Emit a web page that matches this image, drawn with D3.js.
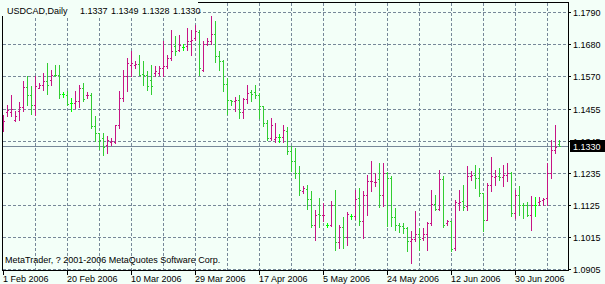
<!DOCTYPE html>
<html>
<head>
<meta charset="utf-8">
<script src="https://cdn.jsdelivr.net/npm/d3@7"></script>
<style>
  body { margin: 0; background: #f3fff8; }
  svg { display: block; }
  text { font-family: "Liberation Sans", Arial, sans-serif; font-size: 9px; fill: #000; }
</style>
</head>
<body>
<div id="canvas"></div>
<script>
// USDCAD daily bars, 1 Feb 2006 .. mid Jul 2006
const symbol = "USDCAD,Daily";
const opens = [
  1.1402,1.1445,1.1445,1.1419,1.1448,1.1462,1.1533,1.1505,1.1471,1.1530,
  1.1540,1.1553,1.1557,1.1574,1.1572,1.1507,1.1505,1.1475,1.1475,1.1485,
  1.1528,1.1503,1.1505,1.1396,1.1373,1.1356,1.1333,1.1344,1.1344,1.1402,
  1.1494,1.1568,1.1609,1.1609,1.1611,1.1576,1.1574,1.1557,1.1580,1.1580,
  1.1597,1.1603,1.1631,1.1672,1.1660,1.1668,1.1672,1.1691,1.1700,1.1721,
  1.1591,1.1680,1.1691,1.1714,1.1637,1.1622,1.1542,1.1488,1.1482,1.1488,
  1.1445,1.1491,1.1514,1.1514,1.1503,1.1465,1.1408,1.1356,1.1354,1.1358,
  1.1358,1.1381,1.1312,1.1278,1.1235,1.1172,1.1181,1.1147,1.1058,1.1094,
  1.1090,1.1058,1.1058,1.1126,1.0998,1.1048,1.1014,1.1086,1.1086,1.1149,
  1.1071,1.1159,1.1207,1.1203,1.1216,1.1159,1.1236,1.1218,1.1083,1.1058,
  1.1052,1.1046,1.1000,1.1009,1.1025,1.1012,1.1025,1.1063,1.1129,1.1113,
  1.1216,1.1063,1.1069,1.0977,1.1132,1.1140,1.1121,1.1224,1.1228,1.1218,
  1.1167,1.1075,1.1195,1.1221,1.1224,1.1221,1.1230,1.1236,1.1098,1.1159,
  1.1126,1.1126,1.1092,1.1124,1.1136,1.1144,1.1149,1.1236,1.1316,1.1337
];
const highs = [
  1.1436,1.1471,1.1505,1.1448,1.1480,1.1551,1.1568,1.1534,1.1568,1.1545,
  1.1580,1.1614,1.1591,1.1609,1.1609,1.1514,1.1517,1.1494,1.1519,1.1540,
  1.1545,1.1514,1.1511,1.1431,1.1373,1.1373,1.1362,1.1356,1.1402,1.1519,
  1.1591,1.1631,1.1654,1.1620,1.1641,1.1620,1.1586,1.1609,1.1603,1.1603,
  1.1689,1.1643,1.1729,1.1706,1.1712,1.1680,1.1735,1.1729,1.1746,1.1729,
  1.1689,1.1700,1.1777,1.1760,1.1654,1.1626,1.1563,1.1488,1.1499,1.1503,
  1.1494,1.1540,1.1522,1.1540,1.1511,1.1465,1.1419,1.1425,1.1408,1.1370,
  1.1402,1.1393,1.1327,1.1321,1.1258,1.1190,1.1195,1.1172,1.1109,1.1149,
  1.1132,1.1063,1.1140,1.1178,1.1058,1.1083,1.1101,1.1094,1.1178,1.1184,
  1.1172,1.1230,1.1278,1.1236,1.1270,1.1270,1.1239,1.1224,1.1115,1.1063,
  1.1063,1.1048,1.1037,1.1104,1.1046,1.1046,1.1066,1.1178,1.1161,1.1247,
  1.1224,1.1075,1.1071,1.1144,1.1178,1.1193,1.1259,1.1241,1.1262,1.1253,
  1.1167,1.1201,1.1290,1.1247,1.1253,1.1264,1.1270,1.1239,1.1178,1.1190,
  1.1132,1.1136,1.1155,1.1152,1.1152,1.1149,1.1270,1.1350,1.1402,1.1349
];
const lows = [
  1.1379,1.1431,1.1431,1.1413,1.1419,1.1448,1.1471,1.1439,1.1436,1.1528,
  1.1522,1.1507,1.1540,1.1568,1.1494,1.1499,1.1471,1.1448,1.1459,1.1462,
  1.1482,1.1494,1.1390,1.1347,1.1319,1.1299,1.1304,1.1333,1.1339,1.1390,
  1.1482,1.1519,1.1568,1.1597,1.1572,1.1540,1.1522,1.1507,1.1568,1.1574,
  1.1568,1.1597,1.1626,1.1643,1.1654,1.1660,1.1660,1.1643,1.1695,1.1574,
  1.1586,1.1677,1.1680,1.1618,1.1591,1.1517,1.1439,1.1471,1.1448,1.1425,
  1.1425,1.1477,1.1485,1.1494,1.1425,1.1396,1.1350,1.1350,1.1344,1.1344,
  1.1342,1.1301,1.1241,1.1218,1.1159,1.1167,1.1113,1.1048,1.1006,1.1048,
  1.1071,1.1048,1.1052,1.0971,1.0979,1.0977,1.0986,1.1078,1.1078,1.1058,
  1.1012,1.1092,1.1172,1.1190,1.1117,1.1121,1.1052,1.1052,1.1040,1.1032,
  1.1029,1.0968,1.0926,1.1000,1.0972,1.1006,1.0972,1.1058,1.1109,1.1109,
  1.1048,1.1055,1.0968,1.0972,1.1109,1.1109,1.1109,1.1213,1.1184,1.1155,
  1.1035,1.1075,1.1172,1.1195,1.1213,1.1190,1.1207,1.1086,1.1081,1.1092,
  1.1081,1.1086,1.1040,1.1086,1.1126,1.1126,1.1126,1.1218,1.1304,1.1328
];
const closes = [
  1.1413,1.1452,1.1457,1.1431,1.1462,1.1533,1.1505,1.1471,1.1534,1.1540,
  1.1551,1.1540,1.1574,1.1572,1.1507,1.1507,1.1474,1.1475,1.1485,1.1528,
  1.1490,1.1505,1.1396,1.1373,1.1350,1.1324,1.1350,1.1347,1.1402,1.1494,
  1.1568,1.1614,1.1614,1.1611,1.1574,1.1572,1.1534,1.1534,1.1586,1.1597,
  1.1603,1.1631,1.1654,1.1657,1.1677,1.1668,1.1691,1.1695,1.1723,1.1597,
  1.1680,1.1691,1.1714,1.1637,1.1622,1.1542,1.1488,1.1485,1.1488,1.1445,
  1.1491,1.1511,1.1507,1.1503,1.1465,1.1408,1.1356,1.1402,1.1358,1.1358,
  1.1385,1.1312,1.1278,1.1235,1.1178,1.1184,1.1147,1.1058,1.1090,1.1090,
  1.1092,1.1058,1.1126,1.0998,1.1048,1.1014,1.1094,1.1086,1.1147,1.1071,
  1.1161,1.1209,1.1209,1.1206,1.1159,1.1236,1.1218,1.1083,1.1058,1.1052,
  1.1046,1.1000,1.1009,1.1025,1.1009,1.1025,1.1063,1.1129,1.1113,1.1216,
  1.1055,1.1069,1.0975,1.1136,1.1136,1.1117,1.1224,1.1228,1.1218,1.1167,
  1.1075,1.1195,1.1224,1.1224,1.1221,1.1228,1.1236,1.1098,1.1159,1.1126,
  1.1124,1.1092,1.1126,1.1124,1.1140,1.1147,1.1236,1.1316,1.1324,1.1330
];
const dateLabels = ["1 Feb 2006","20 Feb 2006","10 Mar 2006","29 Mar 2006","17 Apr 2006",
                    "5 May 2006","24 May 2006","12 Jun 2006","30 Jun 2006"];
const dateLabelBars = [0,16,32,48,64,80,96,112,128];
const priceTicks = [1.1790,1.1680,1.1570,1.1455,1.1345,1.1235,1.1125,1.1015,1.0905];
const lastPrice = 1.1330;
const copyright = "MetaTrader, ? 2001-2006 MetaQuotes Software Corp.";

const w = 605, h = 284;
const plotL = 2, plotR = 568, plotT = 2, plotB = 270;
const upColor = "#c71585", downColor = "#32cd32", flatColor = "#00ff00", gridColor = "#778899";
const bg = "#f3fff8";

const svg = d3.select("#canvas").append("svg").attr("width", w).attr("height", h)
  .attr("shape-rendering", "crispEdges");
svg.append("rect").attr("width", w).attr("height", h).attr("fill", bg);

const xScale = d3.scaleLinear().domain([0, opens.length - 1]).range([3, 3 + 4 * (opens.length - 1)]);
const yScale = d3.scaleLinear().domain([1.0905, 1.1790]).range([269, 12]);
const py = v => Math.round(yScale(v));

// grid
const grid = svg.append("g").attr("stroke", gridColor).attr("stroke-dasharray", "3,2");
grid.selectAll("line.h").data(priceTicks).enter().append("line").attr("class", "h")
  .attr("x1", plotL + 1).attr("x2", plotR)
  .attr("y1", d => py(d) + 0.5).attr("y2", d => py(d) + 0.5);
grid.selectAll("line.v").data(d3.range(8, opens.length, 8)).enter().append("line").attr("class", "v")
  .attr("x1", d => xScale(d) + 0.5).attr("x2", d => xScale(d) + 0.5)
  .attr("y1", plotT + 1).attr("y2", plotB);

// current price line
svg.append("line").attr("x1", plotL).attr("x2", plotR)
  .attr("y1", py(lastPrice) + 0.5).attr("y2", py(lastPrice) + 0.5).attr("stroke", gridColor);

// bars
const bars = svg.append("g").selectAll("g").data(opens).enter().append("g")
  .attr("fill", (d, i) => closes[i] > d ? upColor : (closes[i] < d ? downColor : flatColor));
bars.append("rect").attr("x", (d, i) => xScale(i)).attr("width", 1)
  .attr("y", (d, i) => py(highs[i]))
  .attr("height", (d, i) => Math.max(1, py(lows[i]) - py(highs[i]) + 1));
bars.append("rect").attr("x", (d, i) => xScale(i) - 1).attr("width", 1).attr("height", 1)
  .attr("y", d => py(d));
bars.append("rect").attr("x", (d, i) => xScale(i) + 1).attr("width", 1).attr("height", 1)
  .attr("y", (d, i) => py(closes[i]));

// frame
svg.append("rect").attr("x", plotL + 0.5).attr("y", plotT + 0.5)
  .attr("width", plotR - plotL).attr("height", plotB - plotT)
  .attr("fill", "none").attr("stroke", "#000");

// price axis
const yAxis = svg.append("g");
yAxis.selectAll("line").data(priceTicks).enter().append("line")
  .attr("x1", plotR).attr("x2", plotR + 3)
  .attr("y1", d => py(d) + 0.5).attr("y2", d => py(d) + 0.5).attr("stroke", "#000");
yAxis.selectAll("text").data(priceTicks).enter().append("text")
  .attr("x", 573).attr("y", d => py(d) + 3.5).text(d => d.toFixed(4));

// last price marker
svg.append("rect").attr("x", 570).attr("y", py(lastPrice) - 6).attr("width", 35).attr("height", 12).attr("fill", "#000");
svg.append("text").attr("x", 573).attr("y", py(lastPrice) + 3.5).style("fill", "#fff").text(lastPrice.toFixed(4));

// time axis
const xAxis = svg.append("g");
xAxis.selectAll("line").data(dateLabelBars).enter().append("line")
  .attr("x1", d => xScale(d) + 0.5).attr("x2", d => xScale(d) + 0.5)
  .attr("y1", plotB).attr("y2", plotB + 5).attr("stroke", "#000");
xAxis.selectAll("text").data(dateLabels).enter().append("text")
  .attr("x", (d, i) => xScale(dateLabelBars[i])).attr("y", 282).text(d => d);

// header
svg.append("rect").attr("x", 0).attr("y", 0).attr("width", 198).attr("height", 16).attr("fill", bg);
svg.append("text").attr("x", 7).attr("y", 13.5).text(symbol);
const last = opens.length - 1;
const ohlc = [opens[last], highs[last], lows[last], closes[last]];
svg.selectAll("text.ohlc").data(ohlc).enter().append("text").attr("class", "ohlc")
  .attr("x", (d, i) => 80 + i * 31).attr("y", 13.5).text(d => d.toFixed(4));

svg.append("text").attr("x", 5).attr("y", 263).text(copyright);
</script>
</body>
</html>
